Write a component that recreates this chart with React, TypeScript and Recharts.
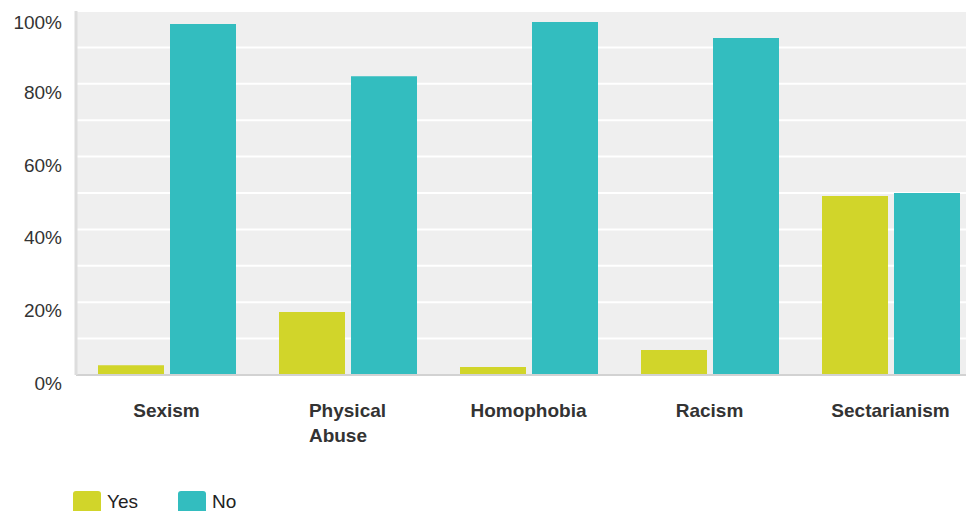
import React from 'react';
import { BarChart, Bar, XAxis, YAxis, CartesianGrid, Legend } from 'recharts';

const categories = ['Sexism', 'Physical Abuse', 'Homophobia', 'Racism', 'Sectarianism'];
const yesValues = [2.7, 17.3, 2.2, 6.9, 49.2];
const noValues = [96.4, 82.1, 97.0, 92.6, 50.0];
const yTicks = [0, 10, 20, 30, 40, 50, 60, 70, 80, 90, 100];

const YES_COLOR = '#d1d52a';
const NO_COLOR = '#33bdbf';
const FONT = '"Liberation Sans", Arial, sans-serif';

const chartData = categories.map((name, i) => ({
  name,
  yes: yesValues[i],
  no: noValues[i],
}));

let measureCtx: CanvasRenderingContext2D | null = null;
const measure = (text: string, font: string) => {
  if (!measureCtx) measureCtx = document.createElement('canvas').getContext('2d');
  if (!measureCtx) return text.length * 10;
  measureCtx.font = font;
  return measureCtx.measureText(text).width;
};

// wraps a category name into lines no wider than maxWidth
const wrapLabel = (label: string, maxWidth: number, font: string) => {
  const words = label.split(' ');
  const lines: string[] = [];
  let current = '';
  words.forEach((w) => {
    const next = current ? current + ' ' + w : w;
    if (current && measure(next, font) > maxWidth) {
      lines.push(current);
      current = w;
    } else {
      current = next;
    }
  });
  if (current) lines.push(current);
  return lines;
};

const CategoryTick = (props: any) => {
  const { x, y, payload } = props;
  const font = `bold 19px ${FONT}`;
  const lines = wrapLabel(String(payload.value), 120, font);
  const widest = Math.max(...lines.map((l) => measure(l, font)));
  const left = x - widest / 2;
  return (
    <text x={left} y={y} fill="#333333" fontSize={19} fontWeight="bold" fontFamily={FONT} textAnchor="start">
      {lines.map((line, i) => (
        <tspan key={i} x={left} y={y + 34 + i * 25}>
          {line}
        </tspan>
      ))}
    </text>
  );
};

const PercentTick = (props: any) => {
  const { y, payload } = props;
  if (payload.value % 20 !== 0) return null;
  return (
    <text x={62} y={Math.max(y + 15, 29)} fill="#333333" fontSize={19} fontFamily={FONT} textAnchor="end">
      {`${payload.value}%`}
    </text>
  );
};

const renderLegend = () => (
  <div style={{ position: 'relative', height: 60, fontFamily: FONT, fontSize: 19, color: '#222' }}>
    {[
      { label: 'Yes', color: YES_COLOR, left: 73 },
      { label: 'No', color: NO_COLOR, left: 178 },
    ].map((item) => (
      <div key={item.label} style={{ position: 'absolute', left: item.left, top: 11, display: 'flex', alignItems: 'flex-start' }}>
        <div style={{ width: 28, height: 24, borderRadius: 3, background: item.color }} />
        <span style={{ marginLeft: 6, lineHeight: '20px', marginTop: 1 }}>{item.label}</span>
      </div>
    ))}
  </div>
);

export default function App() {
  return (
    <div style={{ position: 'absolute', left: 0, top: 0, width: 966, height: 511, overflow: 'hidden', background: '#fff' }}>
      <BarChart
        width={990}
        height={540}
        data={chartData}
        margin={{ top: 11, right: 9, bottom: 0, left: 0 }}
        barSize={66}
        barGap={6}
      >
        <CartesianGrid vertical={false} stroke="#ffffff" strokeWidth={2} fill="#efefef" />
        <XAxis
          dataKey="name"
          height={105}
          axisLine={{ stroke: '#d2d2d2', strokeWidth: 2 }}
          tickLine={false}
          tick={<CategoryTick />}
          interval={0}
        />
        <YAxis
          width={76}
          domain={[0, 100]}
          ticks={yTicks}
          axisLine={{ stroke: '#dddddd', strokeWidth: 3 }}
          tickLine={false}
          tick={<PercentTick />}
          interval={0}
        />
        <Legend verticalAlign="bottom" content={renderLegend} wrapperStyle={{ height: 60, left: 0, width: 966 }} />
        <Bar dataKey="yes" name="Yes" fill={YES_COLOR} isAnimationActive={false} />
        <Bar dataKey="no" name="No" fill={NO_COLOR} isAnimationActive={false} />
      </BarChart>
    </div>
  );
}
